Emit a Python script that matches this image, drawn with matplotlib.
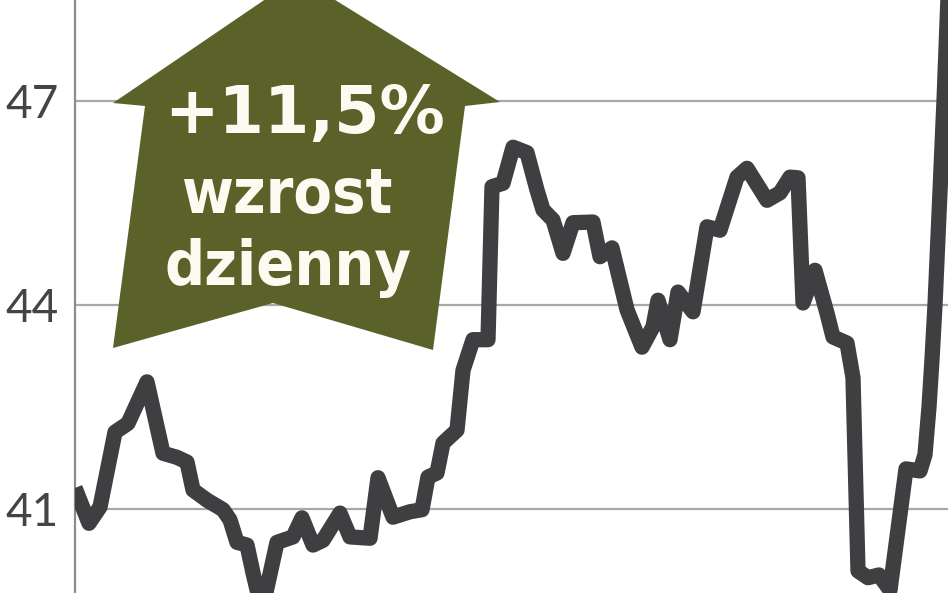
import matplotlib
matplotlib.use("Agg")
import matplotlib.pyplot as plt
from matplotlib.patches import Polygon

# session index (one unit per pixel column of the original) and closing price
sessions = [0, 14, 25, 40, 53, 72, 88, 102, 112, 118, 132, 148, 155, 162, 172,
            178, 187, 202, 218, 227, 238, 248, 265, 275, 295, 303, 318, 335,
            347, 353, 362, 368, 382, 388, 398, 413, 417, 428, 438, 452, 462,
            468, 478, 488, 498, 518, 525, 537, 552, 567, 578, 583, 595, 603,
            618, 632, 645, 662, 672, 692, 705, 715, 723, 728, 740, 752, 758,
            772, 778, 783, 793, 804, 815, 831, 845, 850, 854, 857, 860, 863,
            866, 869, 874]
price = [41.31, 40.79, 41.03, 42.13, 42.26, 42.87, 41.82, 41.76, 41.69, 41.28,
         41.13, 40.99, 40.84, 40.51, 40.47, 40.06, 39.51, 40.51, 40.59, 40.87,
         40.47, 40.54, 40.94, 40.59, 40.57, 41.46, 40.88, 40.96, 40.99, 41.47,
         41.53, 41.97, 42.16, 43.04, 43.49, 43.49, 45.74, 45.79, 46.32, 46.24,
         45.69, 45.40, 45.25, 44.76, 45.21, 45.22, 44.71, 44.84, 43.93, 43.38,
         43.68, 44.07, 43.49, 44.19, 43.90, 45.15, 45.10, 45.88, 46.01, 45.54,
         45.65, 45.88, 45.87, 44.03, 44.51, 43.88, 43.53, 43.44, 42.93, 40.09,
         39.99, 40.03, 39.81, 41.59, 41.56, 41.80, 42.50, 43.20, 44.00, 45.00,
         46.00, 47.00, 48.90]

yticks = [41, 44, 47]
ytick_labels = ["41", "44", "47"]

badge_lines = ["+11,5%", "wzrost", "dzienny"]

W, H = 948, 593
fig = plt.figure(figsize=(W / 100, H / 100), dpi=100)
fig.patch.set_facecolor("white")
ax = fig.add_axes([75 / W, 0, 1 - 75 / W, 1])

ax.plot(sessions, price, color="#3f3f41", lw=11,
        solid_joinstyle="round", solid_capstyle="butt", zorder=3)

ax.set_xlim(0, 873)
ax.set_ylim(39.765, 48.485)
ax.set_xticks([])
ax.set_yticks(yticks)
ax.set_yticklabels(ytick_labels)
ax.tick_params(axis="y", length=0, pad=11.5, labelsize=33, labelcolor="#444444")
for lab in ax.get_yticklabels():
    lab.set_fontfamily(["Lato", "DejaVu Sans"])
    lab.set_fontweight("normal")

ax.set_axisbelow(True)
ax.grid(axis="y", color="#a8a8a8", lw=1.6)
for side in ["top", "right", "bottom"]:
    ax.spines[side].set_visible(False)
ax.spines["left"].set_color("#8c8c8c")
ax.spines["left"].set_linewidth(1.6)


def px(x, y):
    return (x / W, 1 - y / H)


# olive "up" arrow badge
outline = [(298, -23), (500, 102), (465, 106), (433, 350), (273, 303),
           (113, 348), (145, 106), (113, 103)]
badge = Polygon([px(x, y) for x, y in outline], closed=True,
                transform=fig.transFigure, facecolor="#5b6229",
                edgecolor="none", zorder=2, clip_on=False)
ax.add_patch(badge)

txt_color = "#fbfbf2"
fig.text(*px(305, 133), badge_lines[0], ha="center", va="baseline",
         fontsize=47, fontweight="bold", color=txt_color,
         family=["DejaVu Sans"], zorder=4)
fig.text(*px(287, 213), badge_lines[1], ha="center", va="baseline",
         fontsize=45, fontweight="bold", fontstretch="condensed",
         color=txt_color, family=["DejaVu Sans"], zorder=4)
fig.text(*px(288, 285), badge_lines[2], ha="center", va="baseline",
         fontsize=45, fontweight="bold", fontstretch="condensed",
         color=txt_color, family=["DejaVu Sans"], zorder=4)

fig.savefig("out.png", dpi=100, facecolor="white")
